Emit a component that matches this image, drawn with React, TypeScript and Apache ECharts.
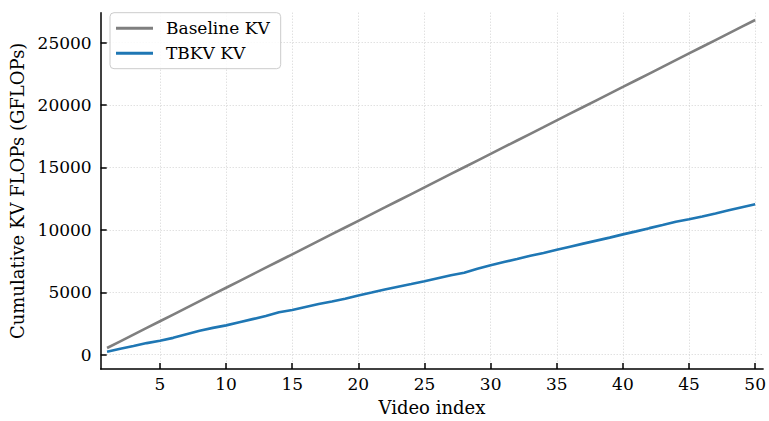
import React, { useEffect, useRef } from "react";
import * as echarts from "echarts";

const videoIndex = Array.from({ length: 50 }, (_, i) => i + 1);
const baselineKV = [
  536, 1073, 1609, 2145, 2682, 3218, 3754, 4291, 4827, 5363,
  5900, 6436, 6972, 7509, 8045, 8581, 9118, 9654, 10190, 10727,
  11263, 11799, 12336, 12872, 13408, 13945, 14481, 15017, 15554, 16090,
  16626, 17163, 17699, 18235, 18772, 19308, 19844, 20381, 20917, 21453,
  21990, 22526, 23062, 23599, 24135, 24671, 25208, 25744, 26280, 26817,
];
const tbkvKV = [
  230, 480, 700, 930, 1120, 1350, 1640, 1920, 2150, 2350,
  2600, 2850, 3100, 3400, 3580, 3820, 4060, 4260, 4480, 4750,
  4980, 5220, 5450, 5660, 5880, 6120, 6360, 6560, 6880, 7170,
  7420, 7660, 7920, 8150, 8400, 8650, 8900, 9140, 9380, 9640,
  9880, 10140, 10390, 10650, 10850, 11080, 11320, 11570, 11820, 12060,
];
const xTicks = [5, 10, 15, 20, 25, 30, 35, 40, 45, 50];
const yTicks = [0, 5000, 10000, 15000, 20000, 25000];

const FONT = "DejaVu Serif";

export default function App() {
  const ref = useRef<HTMLDivElement>(null);
  useEffect(() => {
    document.body.style.margin = "0";
    if (!ref.current) return;
    const chart = echarts.init(ref.current, null, { renderer: "svg" });
    const gridLine = { show: true, lineStyle: { color: "#c8c8c8", type: [1, 2], width: 0.8 } };
    chart.setOption({
      animation: false,
      backgroundColor: "#ffffff",
      grid: { left: 100.7, right: 4.5, top: 12.7, bottom: 51.7 },
      legend: {
        left: 110,
        top: 12.7,
        orient: "vertical",
        icon: "rect",
        itemWidth: 37,
        itemHeight: 3,
        itemGap: 8,
        padding: [7, 11, 7, 6],
        backgroundColor: "rgba(255,255,255,0.85)",
        borderColor: "#cccccc",
        borderWidth: 1,
        borderRadius: 4,
        textStyle: { fontFamily: FONT, fontSize: 17, color: "#000", padding: [0, 0, 0, 8], lineHeight: 17 },
        data: ["Baseline KV", "TBKV KV"],
      },
      xAxis: {
        type: "value",
        min: 0.52,
        max: 50.6,
        name: "Video index",
        nameLocation: "middle",
        nameGap: 29,
        nameTextStyle: { fontFamily: FONT, fontSize: 18, color: "#000" },
        axisLine: { show: true, onZero: false, lineStyle: { color: "#000", width: 1.5 } },
        axisTick: { show: true, inside: true, length: 6, lineStyle: { color: "#000", width: 1.5 }, customValues: xTicks },
        axisLabel: { fontFamily: FONT, fontSize: 17, color: "#000", margin: 6, customValues: xTicks, formatter: (v: number) => String(v) },
        splitLine: gridLine,
      },
      yAxis: {
        type: "value",
        min: -1145,
        max: 27400,
        name: "Cumulative KV FLOPs (GFLOPs)",
        nameLocation: "middle",
        nameGap: 72,
        nameTextStyle: { fontFamily: FONT, fontSize: 18, color: "#000" },
        axisLine: { show: true, onZero: false, lineStyle: { color: "#000", width: 1.5 } },
        axisTick: { show: true, inside: true, length: 6, lineStyle: { color: "#000", width: 1.5 }, customValues: yTicks },
        axisLabel: { fontFamily: FONT, fontSize: 17, color: "#000", margin: 9, customValues: yTicks, formatter: (v: number) => String(v) },
        splitLine: gridLine,
      },
      series: [
        {
          name: "Baseline KV",
          type: "line",
          showSymbol: false,
          data: videoIndex.map((x, i) => [x, baselineKV[i]]),
          lineStyle: { color: "#7f7f7f", width: 2.6 },
          itemStyle: { color: "#7f7f7f" },
        },
        {
          name: "TBKV KV",
          type: "line",
          showSymbol: false,
          data: videoIndex.map((x, i) => [x, tbkvKV[i]]),
          lineStyle: { color: "#1f77b4", width: 2.6 },
          itemStyle: { color: "#1f77b4" },
        },
      ],
    });
    return () => chart.dispose();
  }, []);
  return <div ref={ref} style={{ width: 769, height: 421 }} />;
}
